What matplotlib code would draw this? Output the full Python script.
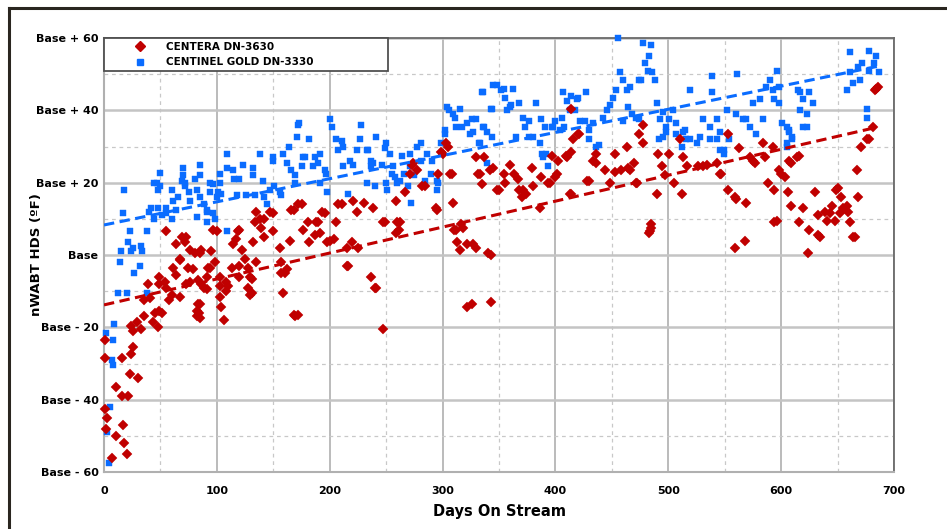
import numpy as np
import matplotlib
matplotlib.use('Agg')
import matplotlib.pyplot as plt
from matplotlib.lines import Line2D

# CENTERA DN-3630 (red diamonds): (day on stream, deviation from base, F)
centera_points = [
    (1, -23.5), (1, -28.5), (1, -42.5), (3, -45), (2, -48), (7, -56), (11, -50), (17, -47), (18, -52), (20, -55),
    (16, -39), (21, -39), (11, -36.5), (23, -33), (30, -34), (16, -28.5), (24, -27.5), (26, -25.5), (26, -21),
    (33, -20.5), (24, -19.5), (29, -18.5), (35, -17), (43, -18.5), (48, -20), (45, -16), (35, -12.5), (41, -12),
    (51, -16), (49, -15.5), (58, -12.5), (60, -11), (67, -11.5), (82, -17), (82, -15.5), (83, -13.5), (55, -9),
    (49, -8), (39, -8), (49, -6), (54, -7.5), (61, -3.5), (64, -5.5), (67, -1.5), (74, -3.5), (76, -7.5), (83, -7),
    (89, -9), (91, -6), (94, -3.5), (85, 0.5), (79, -4), (73, -8), (86, -8), (91, -9.5), (85, -13.5), (84, -16),
    (85, -17.5), (103, -8.5), (108, -10), (103, -11.5), (104, -14.5), (106, -18), (108, -7.5), (120, -6), (129, -6),
    (128, -9), (131, -10.5), (120, -3), (157, -5), (162, -4), (159, -10.5), (169, -17), (216, -3), (237, -6),
    (241, -9), (247, -20.5), (322, -14.5), (326, -13.5), (343, -13),
    (55, 6.5), (69, 5), (72, 3.5), (64, 3), (67, -1), (76, 1.5), (81, 0.5), (86, 1.5), (95, 1), (98, -2), (92, -3.5),
    (100, 6.5), (103, -6), (110, -8.5), (113, -3.5), (114, 3), (117, 4.5), (119, 6.5), (122, 1.5), (125, -1),
    (128, -3.5), (131, -6.5), (132, 3.5), (134, 9), (135, 12), (139, 7.5), (142, 5), (142, 10), (147, 12), (150, 6.5),
    (156, 2), (157, -2), (160, -5), (166, 12.5), (172, 14), (168, -16.5), (129, -11), (135, -2),
    (73, 5), (97, 7), (120, 7), (138, 10), (150, 11.5), (165, 4), (168, 12.5), (188, 9), (191, 6), (200, 4),
    (196, 11.5), (211, 14), (221, 15), (230, 14.5), (238, 13), (224, 12), (249, 9), (259, 15), (262, 9), (261, 7),
    (267, 17.5), (274, 25.5), (277, 23.5), (282, 19), (294, 13), (300, 28), (303, 31), (307, 22.5), (309, 14.5),
    (331, 22.5), (312, 7), (318, 7.5), (315, 1.5), (327, 3), (330, 2),
    (175, 14), (193, 12), (207, 14), (181, 9), (190, 9), (206, 9), (176, 7), (187, 5.5), (182, 3.5), (198, 3.5),
    (204, 4.5), (215, 2), (225, 2), (220, 3.5), (247, 9), (260, 9), (259, 6), (295, 12.5), (310, 7), (316, 8.5),
    (313, 3.5), (322, 3), (340, 0.5), (215, -3), (240, -9), (273, 25), (271, 22.5), (284, 19), (296, 22.5),
    (308, 22.5), (299, 28.5), (305, 30), (335, 19.5), (337, 27), (172, -16.5),
    (345, 24), (360, 25), (363, 22.5), (367, 21), (379, 24), (387, 21.5), (348, 18), (355, 20), (371, 18), (370, 16),
    (380, 19), (393, 20), (400, 21.5), (397, 27.5), (402, 26), (409, 27.5), (414, 28.5), (416, 32), (420, 33.5),
    (414, 40.5), (414, 17), (386, 13), (428, 20.5), (433, 26), (436, 28), (444, 23.5), (448, 20), (453, 23),
    (458, 23.5), (463, 30), (464, 24), (470, 25.5), (472, 20), (478, 31), (474, 33.5), (478, 36), (485, 7.5),
    (484, 6.5), (490, 17), (491, 28), (494, 24.5), (497, 22), (501, 28), (505, 20), (512, 17), (513, 27), (510, 32),
    (343, 0), (330, 27), (333, 22.5), (342, 23.5), (350, 18), (354, 22.5), (368, 18), (374, 17), (395, 20),
    (401, 22.5), (410, 27), (421, 33.5), (413, 17), (430, 20.5), (436, 25.5), (453, 28), (466, 23.5), (471, 20),
    (483, 6), (485, 8.5),
    (517, 24.5), (526, 24.5), (534, 25), (543, 25.5), (547, 22.5), (553, 33.5), (553, 18), (559, 16), (569, 14.5),
    (563, 29.5), (572, 27), (577, 25.5), (586, 27), (584, 31), (593, 30), (588, 20), (594, 18), (600, 22.5),
    (603, 21.5), (606, 17.5), (609, 25.5), (614, 27), (616, 27.5), (609, 13.5), (619, 13), (616, 9), (625, 7),
    (630, 17.5), (633, 11), (634, 5), (624, 0.5), (639, 12), (645, 13.5), (641, 9.5), (650, 18.5), (653, 16),
    (655, 13), (648, 9.5), (659, 12), (661, 9), (665, 5), (668, 16), (667, 23.5), (671, 30), (676, 32), (681, 35.5),
    (683, 45.5), (686, 46.5), (594, 9), (559, 2), (568, 4), (531, 24.5), (546, 22.5), (560, 15.5), (575, 26),
    (598, 23.5), (607, 26), (596, 9.5), (633, 5.5), (643, 11.5), (649, 18), (652, 11.5), (658, 13.5), (664, 5),
    (678, 32), (684, 46),
]

# CENTINEL GOLD DN-3330 (blue squares)
centinel_points = [
    (4, -57.5), (3, -49), (5, -42), (8, -30.5), (7, -29), (9, -19), (8, -23.5), (2, -21.5), (12, -10.5), (20, -10.5),
    (38, -10.5), (14, -2), (32, -3), (27, -5), (15, 1), (34, 1), (24, 1), (33, 2.5), (26, 2), (23, 6.5), (21, 3.5),
    (38, 6.5), (17, 11.5), (18, 18), (40, 12), (44, 10), (48, 13), (55, 13), (60, 10), (64, 12.5), (51, 11), (42, 13),
    (44, 20), (50, 19), (50, 22.7), (47, 20), (48, 18), (55, 11.5), (61, 15),
    (70, 24), (70, 22), (72, 20), (69, 20.5), (72, 19), (85, 25), (85, 22), (81, 21), (75, 17.5), (82, 18), (66, 16),
    (60, 18), (76, 15), (85, 16), (89, 14), (91, 12), (97, 11.5), (82, 10.5), (91, 9), (98, 10), (94, 17.5),
    (97, 19.5), (94, 20), (101, 17.5), (103, 20), (104, 17), (100, 16), (91, 12.5), (109, 6.5),
    (109, 28), (109, 24), (103, 22.5), (114, 23.5), (115, 21), (120, 21), (123, 25), (132, 24), (132, 22),
    (118, 16.5), (126, 16.5), (134, 16.5), (138, 28), (141, 20.5), (142, 16), (147, 18), (144, 14), (151, 19),
    (156, 17.5), (150, 27), (150, 26), (159, 28), (162, 25.5), (166, 23.5), (169, 22), (171, 32.5), (164, 30),
    (169, 20), (157, 16.5), (172, 36),
    (173, 36.5), (182, 32), (176, 27), (191, 28), (185, 24.5), (197, 22.5), (198, 17.5), (200, 37.5), (202, 35.5),
    (206, 32), (212, 30), (218, 26), (216, 17), (228, 36), (227, 32), (233, 29), (238, 25.5), (241, 32.5), (250, 31),
    (253, 28), (256, 24.5), (250, 20), (262, 20.5), (271, 24.5), (272, 14.5), (277, 30), (281, 31), (286, 28),
    (291, 26), (295, 20.5), (211, 31.5), (207, 29), (224, 29), (234, 29), (249, 29.5), (264, 27.5), (271, 28),
    (178, 27), (187, 27), (190, 25.5), (175, 24.5), (196, 23.5), (212, 24.5), (221, 25), (237, 26), (237, 24.5),
    (246, 25), (255, 22.5), (258, 21.5), (266, 22.5), (191, 20), (233, 20), (240, 19), (251, 18), (260, 20),
    (269, 19), (281, 26), (290, 22.5), (296, 20), (295, 18), (284, 20.5), (275, 22),
    (299, 31), (302, 33.5), (306, 40), (311, 38), (315, 40.5), (317, 35.5), (322, 36.5), (324, 33.5), (330, 37.5),
    (335, 45), (336, 45), (344, 40.5), (337, 35.5), (344, 32.5), (333, 31), (339, 25.5), (345, 47), (304, 41),
    (309, 39), (312, 35.5), (302, 34.5), (327, 34), (326, 37.5), (336, 35.5), (339, 34), (332, 31),
    (352, 45.5), (362, 46), (355, 43.5), (361, 41.5), (368, 42), (357, 40), (343, 40.5), (371, 38), (377, 37),
    (373, 35.5), (383, 42), (387, 37.5), (391, 35.5), (380, 32.5), (386, 31), (365, 32.5), (392, 28), (393, 24.5),
    (388, 28), (397, 35.5), (400, 37), (404, 34.5), (408, 35.5), (406, 38), (407, 45), (414, 44), (420, 43.5),
    (427, 45), (410, 42.5), (417, 40), (426, 37), (422, 37), (430, 34.5), (433, 36.5), (430, 32), (436, 30),
    (439, 30.5), (442, 38), (446, 40), (448, 41.5), (451, 43.5), (454, 45.5), (457, 50.5), (460, 48.5), (463, 45.5),
    (466, 46.5), (464, 41), (468, 39), (471, 38), (476, 48.5), (478, 58.5), (485, 58), (483, 55), (479, 53),
    (482, 51), (486, 50.5), (488, 48.5), (455, 60), (460, 37), (490, 42), (495, 39.5), (493, 37.5), (498, 35.5),
    (495, 32.5), (504, 40), (507, 36.5), (507, 33.5), (516, 32), (515, 34.5), (512, 30),
    (348, 47), (354, 46), (360, 41), (398, 35.5), (413, 40), (419, 43), (377, 32.5), (389, 27), (474, 37.5),
    (474, 48.5), (501, 37.5), (498, 34), (492, 32),
    (519, 45.5), (539, 49.5), (539, 45), (561, 50), (596, 51), (552, 40), (531, 37.5), (513, 34), (519, 32),
    (528, 32.5), (537, 35.5), (543, 37.5), (546, 34), (549, 29), (554, 32), (560, 39), (566, 37.5), (572, 35.5),
    (575, 42), (581, 43), (578, 33.5), (584, 37.5), (587, 46.5), (590, 48.5), (593, 45.5), (598, 46.5), (594, 43),
    (598, 42), (601, 36.5), (607, 34.5), (605, 31), (610, 32.5), (615, 45.5), (619, 43), (625, 45), (623, 39),
    (628, 42), (619, 35.5), (617, 40), (661, 56), (678, 56.5), (684, 55), (672, 53), (661, 50.5), (670, 48.5),
    (658, 45.5), (664, 47.5), (678, 51), (687, 50.5), (676, 40.5), (676, 38), (525, 31), (537, 32), (543, 32),
    (546, 29), (549, 28), (569, 37.5), (605, 35.5), (607, 34), (610, 32), (605, 30), (617, 45), (623, 35.5),
    (668, 52), (682, 53),
]

# dashed trend lines, read at both ends
trend_days = [0, 686]
centera_trend = [-13.8, 35.4]
centinel_trend = [8.3, 52.2]

y_ticks = [-60, -40, -20, 0, 20, 40, 60]
y_labels = ['Base - 60', 'Base - 40', 'Base - 20', 'Base', 'Base + 20', 'Base + 40', 'Base + 60']
x_ticks = [0, 100, 200, 300, 400, 500, 600, 700]

red = '#C00000'
blue = '#0A6CFF'

c_red = np.array(centera_points)
c_blue = np.array(centinel_points)

fig = plt.figure(figsize=(9.47, 5.29), dpi=100)
ax = fig.add_axes([104 / 947, 1 - 472 / 529, 790 / 947, 434 / 529])

ax.set_xlim(0, 700)
ax.set_ylim(-60, 60)
ax.set_xticks(x_ticks)
ax.set_xticks(np.arange(50, 700, 100), minor=True)
ax.set_yticks(y_ticks)
ax.set_yticks(np.arange(-50, 60, 20), minor=True)
ax.set_yticklabels(y_labels)

# grid
ax.grid(which='major', axis='x', color='#a8a8a8', lw=1.1)
ax.grid(which='major', axis='y', color='#c4c4c4', lw=1.8)
ax.grid(which='minor', color='#c8c8c8', lw=0.9, linestyle=(0, (3, 3)))
ax.set_axisbelow(True)

ax.tick_params(which='both', length=0)
ax.tick_params(axis='y', pad=4, labelsize=8)
ax.tick_params(axis='x', pad=10, labelsize=8)
for lbl in ax.get_xticklabels() + ax.get_yticklabels():
    lbl.set_fontweight('bold')

for side in ['left', 'bottom']:
    ax.spines[side].set_color('#b0b0b0')
    ax.spines[side].set_linewidth(1.5)
for side in ['top', 'right']:
    ax.spines[side].set_color('#6a6a6a')
    ax.spines[side].set_linewidth(1.3)

ax.plot(c_blue[:, 0], c_blue[:, 1], 's', color=blue, ms=4.9, mec=blue, mew=0.3,
        label='CENTINEL GOLD DN-3330', clip_on=False, zorder=3)
ax.plot(c_red[:, 0], c_red[:, 1], 'D', color=red, ms=4.8, mec=red, mew=0.3,
        label='CENTERA DN-3630', clip_on=False, zorder=4)

ax.plot(trend_days, centinel_trend, color=blue, lw=2.2, dashes=(3.4, 1.8), zorder=5)
ax.plot(trend_days, centera_trend, color=red, lw=2.2, dashes=(3.4, 1.8), zorder=5)

ax.set_xlabel('Days On Stream', fontsize=10.5, fontweight='bold', labelpad=6)
ax.set_ylabel('nWABT HDS (ºF)', fontsize=9.5, fontweight='bold')
ax.yaxis.set_label_coords(-0.077, 0.5)

handles = [Line2D([], [], marker='D', color=red, ls='none', ms=4.6),
           Line2D([], [], marker='s', color=blue, ls='none', ms=4.6)]
leg = ax.legend(handles, ['CENTERA DN-3630', 'CENTINEL GOLD DN-3330'],
                loc='upper left', bbox_to_anchor=(0, 1, 0.36, 0), mode='expand',
                borderaxespad=0, fancybox=False, framealpha=1, edgecolor='#505050',
                prop={'size': 7.5, 'weight': 'bold'}, handlelength=6.2,
                handletextpad=-0.6, borderpad=0.35, labelspacing=0.55)
leg.get_frame().set_linewidth(1.3)
leg.set_zorder(10)

# outer frame of the picture (cropped at right and bottom)
x0 = 9 / 947
y0 = 1 - 8 / 529
fig.add_artist(Line2D([x0, 1], [y0, y0], color='#2a2620', lw=2.2))
fig.add_artist(Line2D([x0, x0], [0, y0], color='#2a2620', lw=2.2))

fig.savefig('out.png', dpi=100)
